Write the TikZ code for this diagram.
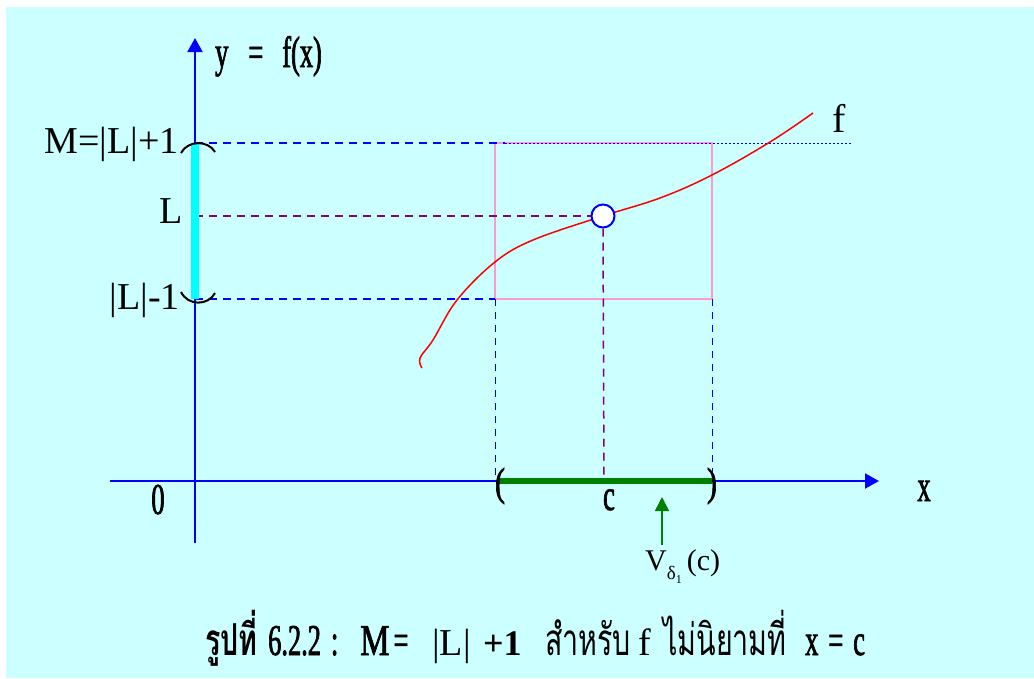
\documentclass[tikz,border=0pt]{standalone}
\usepackage{fontspec}
\setmainfont{Liberation Serif}
\newfontfamily\narrowfnt[FakeStretch=0.6,FakeBold=1.5]{Liberation Serif}
\newfontfamily\widerfnt[FakeStretch=0.75,FakeBold=1.5]{Liberation Serif}
\newfontfamily\thaifnt[Script=Thai,FakeStretch=0.65]{Loma}
\usetikzlibrary{arrows.meta}

\definecolor{bgcyan}{HTML}{CCFFFF}
\definecolor{barcyan}{HTML}{00FFFF}
\definecolor{rectpink}{HTML}{FF99CC}
\definecolor{darkgreen}{HTML}{008000}
\definecolor{purp}{HTML}{800080}

\newcommand{\bigtxt}{\fontsize{38}{40}\selectfont}
\newcommand{\midtxt}{\fontsize{44}{46}\selectfont}

\begin{document}
\begin{tikzpicture}[x=1pt,y=-1pt,
    axis/.style={blue, line width=2pt, -{Triangle[length=14pt,width=15pt]}},
    bluedash/.style={blue, line width=1.5pt, dash pattern=on 8pt off 6pt},
    purpdash/.style={purp, line width=1.5pt, dash pattern=on 8pt off 6pt},
    lbl/.style={inner sep=0pt, text=black}]
\useasboundingbox (0,0) rectangle (1034,678);
\fill[white] (0,0) rectangle (1034,678);
\fill[bgcyan] (6,7) rectangle (1034,678);

% Achsen:
\coordinate (xstart) at (110,481);
\coordinate (xend) at (879,481);
\coordinate (ystart) at (195,543);
\coordinate (yend) at (195,38);
\draw[axis] (xstart) -- (xend); % x-Achse
\draw[axis] (ystart) -- (yend); % y-Achse

% Punkte:
\coordinate (Mtop) at (195,143);
\coordinate (Lmid) at (195,216);
\coordinate (Mbot) at (195,299);
\coordinate (boxtl) at (495,143);
\coordinate (boxbl) at (495,299);
\coordinate (boxbr) at (712,299);
\coordinate (boxtr) at (712,143);
\coordinate (dotend) at (852,143);
\coordinate (aleft) at (495,481);
\coordinate (aright) at (712,481);
\coordinate (cpt) at (604,481);

% Rechteck:
\draw[rectpink, line width=1.5pt] (boxtl) rectangle (boxbr);

% gestrichelte Linien:
\draw[bluedash] (Mtop) -- (505,143);
\draw[blue, line width=1pt, dash pattern=on 1.5pt off 2.5pt] (505,143) -- (dotend);
\draw[bluedash] (Mbot) -- (boxbl);
\draw[blue, line width=1pt, dash pattern=on 7pt off 6pt] (boxbl) -- (aleft);
\draw[blue, line width=1pt, dash pattern=on 7pt off 6pt] (boxbr) -- (aright);

% Kurve f:
\draw[red, line width=1.5pt] plot[smooth, tension=0.6] coordinates {(422,368) (420,358) (433,340) (457,300) (495,262) (533,240) (603,216) (660,198) (712,175) (770,142) (813,113)};

% Loch bei c:
\node[circle, draw=blue, fill=white, line width=2pt, minimum size=23pt, inner sep=0pt] (hole) at (603,216) {};
\draw[purpdash] (Lmid) -- (hole.west);
\draw[purpdash] (hole.south) -- (cpt);

% Intervall auf der y-Achse:
\draw[barcyan, line width=8pt] (Mtop) -- (Mbot);
\draw[black, line width=2pt] (181,153) .. controls (188,140) and (208,140) .. (215,152); % obere Klammer
\draw[black, line width=2pt] (181,292) .. controls (188,306) and (208,306) .. (215,293); % untere Klammer

% Intervall auf der x-Achse:
\draw[darkgreen, line width=6pt] (497,481) -- (aright);
\node[lbl] (lpar) at (500,486) {\widerfnt\fontsize{40}{42}\selectfont (};
\node[lbl] (rpar) at (712,486) {\widerfnt\fontsize{40}{42}\selectfont )};

% Pfeil zu V:
\node[lbl, anchor=base west] (vlabel) at (645,570) {\fontsize{30}{32}\selectfont V\raisebox{-0.3em}{\fontsize{19}{19}\selectfont δ\raisebox{-0.25em}{\fontsize{12}{12}\selectfont 1}}\,(c)};
\coordinate (vtip) at (662,497);
\draw[darkgreen, line width=1.5pt, -{Triangle[length=14pt,width=14pt]}] (662,545) -- (vtip);

% Beschriftungen:
\node[lbl, anchor=base west] (ylabel) at (215,67) {\narrowfnt\midtxt y\hspace{20pt}=\hspace{19pt}f(x)};
\node[lbl, anchor=base east] (Mlabel) at (179,153) {\bigtxt M=|L|+1};
\node[lbl, anchor=base east] (Llabel) at (183,223) {\bigtxt L};
\node[lbl, anchor=base east] (mlabel) at (180,309) {\bigtxt |L|-1};
\node[lbl, anchor=base] (zero) at (158,514) {\narrowfnt\midtxt 0};
\node[lbl, anchor=base] (clabel) at (609,510) {\narrowfnt\midtxt c};
\node[lbl, anchor=base] (xlabel) at (924,501) {\narrowfnt\midtxt x};
\node[lbl, anchor=base] (flabel) at (839,132) {\fontsize{40}{42}\selectfont f};

% Bildunterschrift:
\node[lbl, anchor=base west] (cap1) at (205,655) {\thaifnt\bfseries\midtxt รูปที่};
\node[lbl, anchor=base west] (cap2) at (268,655) {\narrowfnt\midtxt 6.2.2\hspace{10pt}:};
\node[lbl, anchor=base west] (cap3) at (360,655) {\widerfnt\midtxt M\hspace{4pt}\narrowfnt =};
\node[lbl, anchor=base west] (cap4) at (432,655) {\bigtxt |L|};
\node[lbl, anchor=base west] (cap5) at (483,655) {\fontsize{36}{38}\selectfont\bfseries +1};
\node[lbl, anchor=base west] (cap6) at (545,655) {\thaifnt\midtxt สำหรับ};
\node[lbl, anchor=base west] (cap7) at (638,655) {\bigtxt f};
\node[lbl, anchor=base west] (cap8) at (663,655) {\thaifnt\midtxt ไม่นิยามที่};
\node[lbl, anchor=base west] (cap9) at (805,655) {\narrowfnt\midtxt x\hspace{10pt}=\hspace{10pt}c};
\end{tikzpicture}
\end{document}
